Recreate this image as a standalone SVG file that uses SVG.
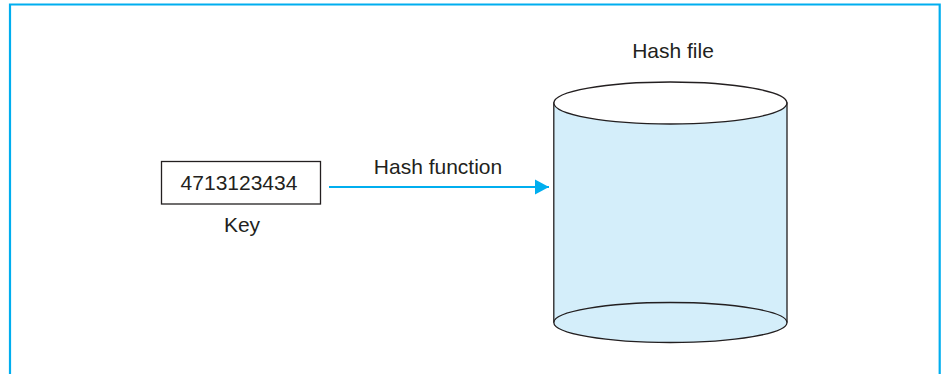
<svg xmlns="http://www.w3.org/2000/svg" width="944" height="374" viewBox="0 0 944 374">
<style>
text{font-family:"Liberation Sans",Arial,sans-serif;font-size:21px;fill:#231f20}
.edge{stroke:#231f20;stroke-width:1.3}
</style>
<defs>
<marker id="ah" markerUnits="userSpaceOnUse" markerWidth="16" markerHeight="16" refX="14" refY="8" orient="auto">
<path d="M0,0.5 L14,8 L0,15.5 Z" fill="#00aeef"/>
</marker>
</defs>
<rect width="944" height="374" fill="#fff"/>
<path d="M10,380 V4.5 H939.7 V380" fill="none" stroke="#00aeef" stroke-width="2.2"/>
<g id="key">
<rect x="161.5" y="161.5" width="159" height="42.5" fill="#fff" class="edge"/>
<text x="239" y="189.5" text-anchor="middle">4713123434</text>
<text x="242" y="231.5" text-anchor="middle">Key</text>
</g>
<g id="hashfile">
<path d="M553.8,103 V322.5 A116.5,20 0 0 0 787,322.5 V103 Z" fill="#d4eefa" class="edge"/>
<path d="M553.8,322.5 A116.5,20 0 0 1 787,322.5" fill="none" class="edge"/>
<ellipse cx="670.4" cy="103" rx="116.5" ry="21" fill="#fff" class="edge"/>
<text x="673" y="58" text-anchor="middle">Hash file</text>
</g>
<g id="connectors">
<line x1="329" y1="187" x2="549" y2="187" stroke="#00aeef" stroke-width="2.2" marker-end="url(#ah)"/>
<text x="438" y="174" text-anchor="middle">Hash function</text>
</g>
</svg>
